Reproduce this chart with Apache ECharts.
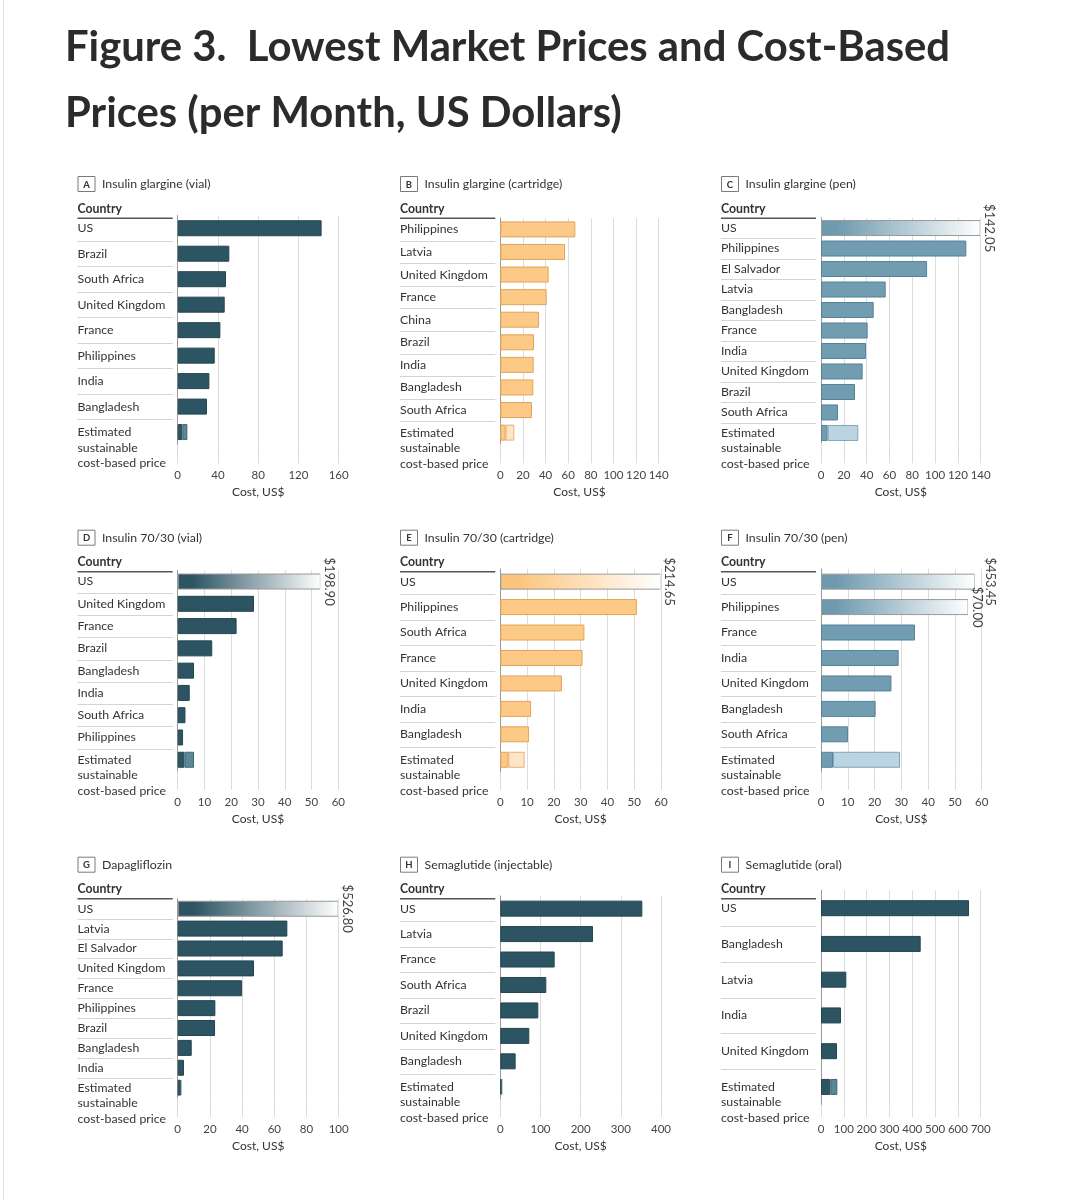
<!DOCTYPE html>
<html><head><meta charset="utf-8">
<script src="https://cdn.jsdelivr.net/npm/echarts@6/dist/echarts.min.js"></script>
<style>html,body{margin:0;padding:0;background:#fff}#c{width:1071px;height:1200px}</style>
</head><body><div id="c"></div>
<script>
const FONT = 'Lato, "Noto Sans", sans-serif';
const EST = 'Estimated\nsustainable\ncost-based price';

// ---- data (US$ per month) ----
const catsA = ['US','Brazil','South Africa','United Kingdom','France','Philippines','India','Bangladesh'];
const valsA = [143.0, 51.3, 48.0, 46.7, 42.4, 36.8, 31.5, 29.1];
const estA  = [4.6, 9.6];

const catsB = ['Philippines','Latvia','United Kingdom','France','China','Brazil','India','Bangladesh','South Africa'];
const valsB = [66.3, 57.2, 42.7, 41.0, 34.2, 29.8, 29.5, 29.2, 28.0];
const estB  = [4.7, 12.4];

const catsC = ['US','Philippines','El Salvador','Latvia','Bangladesh','France','India','United Kingdom','Brazil','South Africa'];
const valsC = [142.05, 127.4, 93.0, 56.7, 46.2, 40.9, 39.5, 36.5, 29.8, 14.9];
const estC  = [5.8, 32.7];

const catsD = ['US','United Kingdom','France','Brazil','Bangladesh','India','South Africa','Philippines'];
const valsD = [198.90, 28.5, 22.0, 12.9, 6.1, 4.5, 2.9, 2.0];
const estD  = [2.5, 6.1];

const catsE = ['US','Philippines','South Africa','France','United Kingdom','India','Bangladesh'];
const valsE = [214.65, 51.0, 31.4, 30.7, 23.0, 11.5, 10.7];
const estE  = [3.0, 9.1];

const catsF = ['US','Philippines','France','India','United Kingdom','Bangladesh','South Africa'];
const valsF = [453.45, 70.00, 35.1, 29.0, 26.3, 20.4, 10.1];
const estF  = [4.5, 29.5];

const catsG = ['US','Latvia','El Salvador','United Kingdom','France','Philippines','Brazil','Bangladesh','India'];
const valsG = [526.80, 68.1, 65.2, 47.4, 40.0, 23.4, 23.2, 8.7, 3.9];
const estG  = [1.5, 2.3];

const catsH = ['US','Latvia','France','South Africa','Brazil','United Kingdom','Bangladesh'];
const valsH = [353.5, 230.7, 135.3, 114.5, 94.6, 72.2, 38.2];
const estH  = [2.5, 4.3];

const catsI = ['US','Bangladesh','Latvia','India','United Kingdom'];
const valsI = [648.8, 437.0, 111.0, 87.7, 70.1];
const estI  = [40.9, 71.6];

// where off-scale bars are cut (axis units) and their value label shown
const cutC = {US: 140};
const cutD = {US: 53.5};
const cutE = {US: 60};
const cutF = {US: 57.6, Philippines: 55.1};
const cutG = {US: 100};

const panels = [
  {key:'A', title:'Insulin glargine (vial)',      cats:catsA, vals:valsA, est:estA, max:160, interval:40,  theme:'dark'},
  {key:'B', title:'Insulin glargine (cartridge)', cats:catsB, vals:valsB, est:estB, max:140, interval:20,  theme:'orange'},
  {key:'C', title:'Insulin glargine (pen)',       cats:catsC, vals:valsC, est:estC, max:140, interval:20,  theme:'blue', cut:cutC},
  {key:'D', title:'Insulin 70/30 (vial)',         cats:catsD, vals:valsD, est:estD, max:60,  interval:10,  theme:'dark', cut:cutD},
  {key:'E', title:'Insulin 70/30 (cartridge)',    cats:catsE, vals:valsE, est:estE, max:60,  interval:10,  theme:'orange', cut:cutE},
  {key:'F', title:'Insulin 70/30 (pen)',          cats:catsF, vals:valsF, est:estF, max:60,  interval:10,  theme:'blue', cut:cutF},
  {key:'G', title:'Dapagliflozin',                cats:catsG, vals:valsG, est:estG, max:100, interval:20,  theme:'dark', cut:cutG},
  {key:'H', title:'Semaglutide (injectable)',     cats:catsH, vals:valsH, est:estH, max:400, interval:100, theme:'dark'},
  {key:'I', title:'Semaglutide (oral)',           cats:catsI, vals:valsI, est:estI, max:700, interval:100, theme:'dark'}
];

// ---- layout ----
const layout = {
  A:{left:177.7, right:338.7, top:215.5, bottom:444.8,  axis:463.3, labelX:77.5, row:0},
  B:{left:500.3, right:658.7, top:218.1, bottom:443.9,  axis:463.3, labelX:400,  row:0},
  C:{left:821,   right:980.7, top:217.8, bottom:443.2,  axis:463.3, labelX:721,  row:0},
  D:{left:177.7, right:338.3, top:570.4, bottom:770.9,  axis:790,   labelX:77.5, row:1},
  E:{left:500.3, right:661,   top:568.9, bottom:772.5,  axis:790,   labelX:400,  row:1},
  F:{left:821,   right:981.7, top:568.9, bottom:772.5,  axis:790,   labelX:721,  row:1},
  G:{left:177.7, right:338.7, top:898.8, bottom:1097.6, axis:1117,  labelX:77.5, row:2},
  H:{left:500.3, right:661,   top:895.9, bottom:1099.5, axis:1117,  labelX:400,  row:2},
  I:{left:821,   right:980.7, top:890.3, bottom:1104.8, axis:1117,  labelX:721,  row:2}
};
const rowY = [{box:184, country:209.3, under:218.3},{box:537.7, country:561.7, under:571.8},{box:864.7, country:888.7, under:898.7}];
const themes = {
  dark:  {main:'#2c5463', border:'#24464f', light:'#5b8797', lightBorder:'#3d6775', fade:'#2c5463'},
  orange:{main:'#fdc986', border:'#e0a45a', light:'#fee5c6', lightBorder:'#e6b277', fade:'#fcc47c'},
  blue:  {main:'#729db1', border:'#53829a', light:'#bad5e1', lightBorder:'#7fa5b7', fade:'#6f9aae'}
};
const TXT = '#333';
const GRID = '#dcdcdc';
const TITLE_FONT = 'bold 41.8px Lato, "Noto Sans", sans-serif';

const grid=[], xAxis=[], yAxis=[], series=[];
const graphic = [
  {type:'line', shape:{x1:3.5,y1:0,x2:3.5,y2:1200}, style:{stroke:'#e2e2e2', lineWidth:1}},
  {type:'text', x:65, y:48, style:{text:'Figure 3.  Lowest Market Prices and Cost-Based', font:TITLE_FONT, fill:'#2b2b2b', verticalAlign:'middle'}},
  {type:'text', x:65, y:114, style:{text:'Prices (per Month, US Dollars)', font:TITLE_FONT, fill:'#2b2b2b', verticalAlign:'middle'}}
];

panels.forEach((p,i)=>{
  const L = layout[p.key], R = rowY[L.row], th = themes[p.theme];
  const cats = p.cats.concat([EST]);
  grid.push({left:L.left, top:L.top, width:L.right-L.left, height:L.bottom-L.top});
  xAxis.push({gridIndex:i, type:'value', min:0, max:p.max, interval:p.interval, offset:L.axis-L.bottom,
    axisLine:{show:false},
    axisTick:{show:true, inside:true, length:L.axis-L.bottom, lineStyle:{color:GRID}},
    splitLine:{show:true, lineStyle:{color:GRID, width:1}},
    axisLabel:{fontFamily:FONT, fontSize:11.5, color:'#444', margin:6},
    name:'Cost, US$', nameLocation:'middle', nameGap:23,
    nameTextStyle:{fontFamily:FONT, fontSize:12, color:TXT}});
  yAxis.push({gridIndex:i, type:'category', inverse:true, data:cats,
    axisLine:{show:true, lineStyle:{color:'#9a9a9a'}}, axisTick:{show:false}, splitLine:{show:false},
    axisLabel:{fontFamily:FONT, fontSize:12.3, color:TXT, align:'left', margin:L.left-L.labelX,
      lineHeight:15.5, interval:0, formatter:v => v===EST ? '\n\n'+v : v}});

  const data = p.vals.map((v,j)=>{
    const cut = p.cut ? p.cut[p.cats[j]] : undefined;
    if (cut != null && v > cut) {
      return {value:cut,
        itemStyle:{
          color:new echarts.graphic.LinearGradient(0,0,1,0,[{offset:0,color:th.fade},{offset:0.1,color:th.fade},{offset:1,color:'#ffffff'}]),
          borderColor:new echarts.graphic.LinearGradient(0,0,1,0,[{offset:0,color:'#999'},{offset:0.994,color:'#999'},{offset:1,color:'rgba(255,255,255,0)'}]),
          borderWidth:1},
        label:{show:true, position:'right', distance:(p.key==='F' && j===0) ? 8 : 2, rotate:-90,
               align:'center', verticalAlign:'bottom', formatter:'$'+v.toFixed(2),
               fontFamily:FONT, fontSize:13, color:'#444'}};
    }
    return v;
  });
  data.push(p.est[0]);
  series.push({type:'bar', xAxisIndex:i, yAxisIndex:i, stack:'s'+i, barWidth:16, data,
    itemStyle:{color:th.main, borderColor:th.border, borderWidth:1}, silent:true});
  series.push({type:'bar', xAxisIndex:i, yAxisIndex:i, stack:'s'+i, barWidth:16,
    data:cats.map((c,j)=> j===cats.length-1 ? +(p.est[1]-p.est[0]).toFixed(2) : '-'),
    itemStyle:{color:th.light, borderColor:th.lightBorder, borderWidth:1}, silent:true});
  // row separators in the label column, positioned from the category scale
  series.push({type:'custom', xAxisIndex:i, yAxisIndex:i, silent:true, clip:false,
    data:cats.slice(1).map((c,j)=>[0, j+1]),
    renderItem:(params, api)=>{
      const c = api.coord([0, api.value(1)]);
      const bw = api.size([0,1])[1];
      const y = Math.round(c[1]-bw/2)+0.5;
      return {type:'line', shape:{x1:L.labelX, y1:y, x2:L.left-5, y2:y}, style:{stroke:'#d4d4d4', lineWidth:1}};
    }});

  // panel header
  graphic.push({type:'rect', shape:{x:L.labelX+0.5, y:R.box-7.5, width:17, height:15}, style:{fill:'#fff', stroke:'#7a7a7a', lineWidth:1}});
  graphic.push({type:'text', x:L.labelX+9, y:R.box+0.5, style:{text:p.key, font:'bold 9.5px '+FONT, fill:TXT, align:'center', verticalAlign:'middle'}});
  graphic.push({type:'text', x:L.labelX+24.5, y:R.box, style:{text:p.title, font:'12.3px '+FONT, fill:TXT, verticalAlign:'middle'}});
  graphic.push({type:'text', x:L.labelX, y:R.country, style:{text:'Country', font:'bold 12.3px '+FONT, fill:TXT, verticalAlign:'middle'}});
  graphic.push({type:'line', shape:{x1:L.labelX, y1:R.under, x2:L.left-5, y2:R.under}, style:{stroke:'#555', lineWidth:1.5}});
});

const chart = echarts.init(document.getElementById('c'), null, {renderer:'canvas'});
chart.setOption({animation:false, backgroundColor:'#fff', grid, xAxis, yAxis, series, graphic});
</script></body></html>
